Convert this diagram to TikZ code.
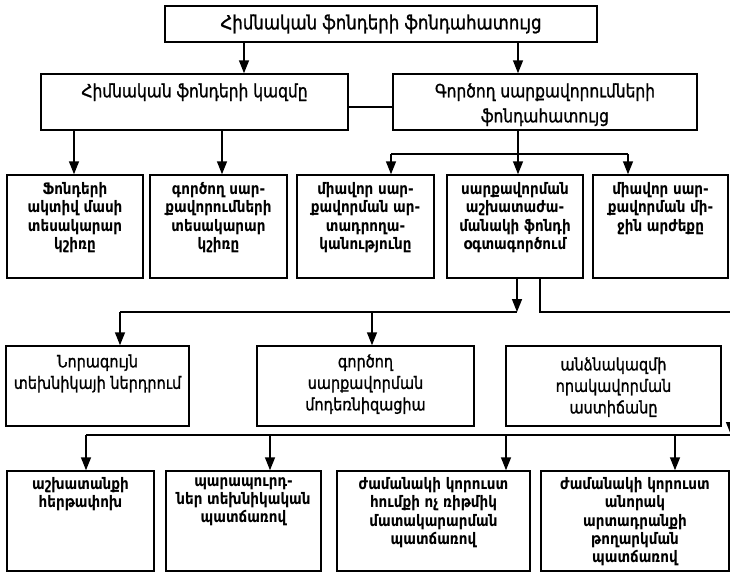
\documentclass[tikz,border=0pt]{standalone}
\usepackage{fontspec}
\setmainfont{DejaVu Sans}[FakeStretch=0.85]
\newfontfamily\medfont{DejaVu Sans}[FakeStretch=0.85, FakeBold=1.2]
\usetikzlibrary{arrows.meta,positioning,fit}

\tikzset{
	blk/.style={draw, line width=1.5pt, inner sep=0pt},
	lbltop/.style={align=center, inner sep=0pt, font=\medfont\fontsize{19.5}{25}\selectfont},
	lbl/.style={align=center, inner sep=0pt, font=\medfont\fontsize{18.2}{25}\selectfont},
	lblr/.style={align=center, inner sep=0pt, font=\medfont\fontsize{17}{21.5}\selectfont},
	lblb/.style={align=center, inner sep=0pt, font=\bfseries\fontsize{15.9}{18.3}\selectfont},
	ln/.style={line width=1.5pt},
	arr/.style={line width=1.5pt, -{Triangle[width=10pt,length=13pt]}}
}

\begin{document}
\begin{tikzpicture}[x=1pt, y=-1pt]
	% Rahmen
	\fill[white] (0,0) rectangle (730,573);
	\useasboundingbox (0,0) rectangle (730,573);
	\clip (0,0) rectangle (730,573);
	% Ebene 1
	\node[blk, fit={(165,6) (597,42)}] (hatuyc) {};
	\node[lbltop] at (hatuyc) {Հիմնական ֆոնդերի ֆոնդահատույց};
	% Ebene 2
	\node[blk, fit={(41,74) (348,130)}] (kazm) {};
	\node[lbl, below=10pt of kazm.north] {Հիմնական ֆոնդերի կազմը};
	\node[blk, fit={(393,74) (697,130)}] (sarqhat) {};
	\node[lbl, below=10pt of sarqhat.north] {Գործող սարքավորումների\\ֆոնդահատույց};
	\draw[ln] (kazm.east |- 0,107) -- (sarqhat.west |- 0,107);
	\draw[arr] (hatuyc.south -| 244,0) -- (kazm.north -| 244,0);
	\draw[arr] (hatuyc.south -| 518,0) -- (sarqhat.north -| 518,0);
	% Ebene 3
	\node[blk, fit={(7,175) (143,278)}] (aktiv) {};
	\node[lblb, below=8pt of aktiv.north] {Ֆոնդերի\\ակտիվ մասի\\տեսակարար\\կշիռը};
	\node[blk, fit={(150,175) (287,278)}] (kshir) {};
	\node[lblb, below=8pt of kshir.north] {գործող սար-\\քավորումների\\տեսակարար\\կշիռը};
	\node[blk, fit={(297,175) (434,278)}] (artad) {};
	\node[lblb, below=8pt of artad.north] {միավոր սար-\\քավորման ար-\\տադրողա-\\կանությունը};
	\node[blk, fit={(447,175) (583,278)}] (ogt) {};
	\node[lblb, below=8pt of ogt.north] {սարքավորման\\աշխատաժա-\\մանակի ֆոնդի\\օգտագործում};
	\node[blk, fit={(593,175) (728,278)}] (mijin) {};
	\node[lblb, below=8pt of mijin.north] {միավոր սար-\\քավորման մի-\\ջին արժեքը};
	\draw[arr] (kazm.south -| 74,0) -- (aktiv.north -| 74,0);
	\draw[arr] (kazm.south -| 222,0) -- (kshir.north -| 222,0);
	\coordinate (gl) at (391,154);
	\coordinate (gr) at (628,154);
	\draw[ln] (gl) -- (gr);
	\draw[arr] (sarqhat.south -| 518,0) -- (ogt.north -| 518,0);
	\draw[arr] (gl) -- (artad.north -| gl);
	\draw[arr] (gr) -- (mijin.north -| gr);
	% Ebene 4
	\node[blk, fit={(6,346) (189,426)}] (nor) {};
	\node[lblr, below=9pt of nor.north] {Նորագույն\\տեխնիկայի ներդրում};
	\node[blk, fit={(257,346) (474,426)}] (mod) {};
	\node[lblr, below=9pt of mod.north] {գործող\\սարքավորման\\մոդեռնիզացիա};
	\node[blk, fit={(506,346) (721,426)}] (anj) {};
	\node[lblr, below=12pt of anj.north] {անձնակազմի\\որակավորման\\աստիճանը};
	\coordinate (hl) at (120,312);
	\coordinate (hm) at (372,312);
	\coordinate (hr) at (517,312);
	\draw[arr] (ogt.south -| hr) -- (hr);
	\draw[ln] (hl) -- (hr);
	\draw[arr] (hl) -- (nor.north -| hl);
	\draw[arr] (hm) -- (mod.north -| hm);
	\coordinate (kr) at (540,312);
	\coordinate (ke) at (731,312);
	\coordinate (kd) at (731,435);
	\draw[arr] (ogt.south -| kr) -- (kr) -- (ke) -- (kd);
	% Ebene 5
	\node[blk, fit={(7,471) (154,571)}] (hert) {};
	\node[lblb, below=7pt of hert.north] {աշխատանքի\\հերթափոխ};
	\node[blk, fit={(166,471) (321,571)}] (parap) {};
	\node[lblb, below=7pt of parap.north] {պարապուրդ-\\ներ տեխնիկական\\պատճառով};
	\node[blk, fit={(337,471) (530,571)}] (humq) {};
	\node[lblb, below=7pt of humq.north] {ժամանակի կորուստ\\հումքի ոչ ռիթմիկ\\մատակարարման\\պատճառով};
	\node[blk, fit={(541,471) (729,571)}] (anorak) {};
	\node[lblb, below=7pt of anorak.north] {ժամանակի կորուստ\\անորակ\\արտադրանքի\\թողարկման\\պատճառով};
	\coordinate (ul) at (86,435);
	\draw[ln] (ul) -- (kd);
	\draw[arr] (ul) -- (hert.north -| ul);
	\draw[arr] (270,435) -- (parap.north -| 270,0);
	\draw[arr] (506,435) -- (humq.north -| 506,0);
	\draw[arr] (675,435) -- (anorak.north -| 675,0);
\end{tikzpicture}
\end{document}
